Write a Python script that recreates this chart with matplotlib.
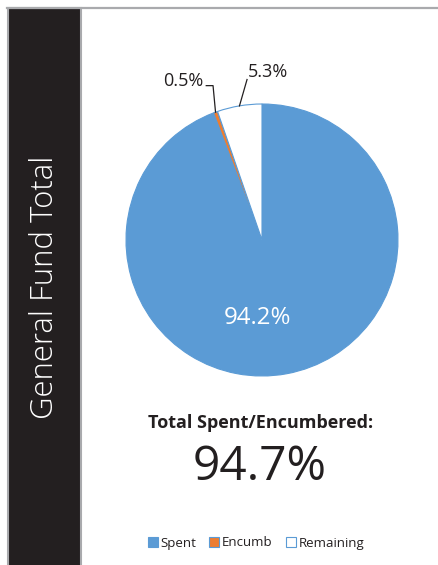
import matplotlib
matplotlib.use("Agg")
import matplotlib.pyplot as plt
from matplotlib.patches import Rectangle
from matplotlib.lines import Line2D
import numpy as np

plt.rcParams['font.family'] = ['Open Sans', 'DejaVu Sans']

categories = ["Spent", "Encumb", "Remaining"]
values = [94.2, 0.5, 5.3]
pct_labels = ["94.2%", "0.5%", "5.3%"]
colors = ["#5B9BD5", "#ED7D31", "#FFFFFF"]
side_title = "General Fund Total"
total_label = "Total Spent/Encumbered:"
total_value = "94.7%"

W, H = 439, 565
fig = plt.figure(figsize=(W / 100, H / 100), dpi=100)
fig.patch.set_facecolor("white")

def fx(x):
    return x / W

def fy(y):
    return 1 - y / H

# border and black side bar
gray = "#A9AAAD"
fig.add_artist(Line2D([fx(7.5), 1.0], [fy(7.5), fy(7.5)], color=gray, lw=1.6))
fig.add_artist(Rectangle((fx(8), -0.02), fx(81) - fx(8), fy(8) + 0.02, facecolor="#231F20",
                         edgecolor=gray, lw=1.5, transform=fig.transFigure))
fig.text(fx(45), fy(287), side_title, rotation=90, color="white", fontsize=22.4,
         fontweight="light", ha="center", va="center")

# pie
cx, cy, r = 262, 240, 136
ax = fig.add_axes([fx(cx - r), fy(cy + r), (2 * r) / W, (2 * r) / H])
wedges, _ = ax.pie(values, colors=colors, startangle=90, counterclock=False,
                   radius=1.0, wedgeprops=dict(edgecolor="#5B9BD5", linewidth=0.8))
ax.set_xlim(-1, 1)
ax.set_ylim(-1, 1)
ax.set_aspect("equal")
ax.axis("off")

txt = "#231F20"

# inside label for Spent
ax.text(-0.03, -0.57, pct_labels[0], color="white", fontsize=17.3, ha="center", va="center")

# outside labels with leader lines
def edge_point(w):
    th = np.deg2rad((w.theta1 + w.theta2) / 2)
    return np.cos(th), np.sin(th)

ex, ey = edge_point(wedges[1])
ax.text(-0.58, 1.17, pct_labels[1], fontsize=13, color=txt, ha="center", va="center",
        clip_on=False)
ax.plot([-0.41, -0.36, ex], [1.135, 1.135, ey], color=txt, lw=0.9, clip_on=False)

ex2, ey2 = edge_point(wedges[2])
ax.text(0.045, 1.235, pct_labels[2], fontsize=13, color=txt, ha="center", va="center",
        clip_on=False)
ax.plot([-0.11, ex2], [1.18, ey2], color=txt, lw=0.9, clip_on=False)

# totals
fig.text(fx(261), fy(423), total_label, fontsize=13, fontweight="bold", color=txt,
         ha="center", va="center")
fig.text(fx(260), fy(467), total_value, fontsize=34.5, color=txt, ha="center", va="center")

# legend
handles = [Rectangle((0, 0), 1, 1, facecolor=c, edgecolor="#5B9BD5", lw=0.8) for c in colors]
fig.legend(handles, categories, loc="center", bbox_to_anchor=(fx(256), fy(543)), ncol=3,
           frameon=False, fontsize=9.5, handlelength=0.75, handleheight=0.75, handletextpad=0.2,
           columnspacing=1.0, borderaxespad=0, labelcolor=txt)

fig.savefig("out.png", dpi=100, facecolor="white")
